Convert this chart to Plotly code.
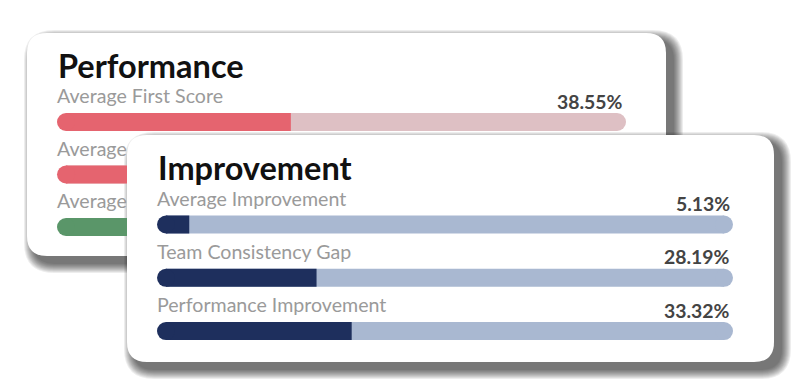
import plotly.graph_objects as go

W, H = 800, 385

# ---------------- data ----------------
perf_title = "Performance"
perf_labels = ["Average First Score", "Average", "Average"]   # rows 2-3 are hidden behind the front card
perf_values = [41.1, 36.0, 45.0]          # bar fill (% of track)
perf_text = ["38.55%", "", ""]
perf_fill = ["#E5646F", "#E5646F", "#5A9669"]
perf_track = ["#DEC0C4", "#DEC0C4", "#B7D2BE"]

imp_title = "Improvement"
imp_labels = ["Average Improvement", "Team Consistency Gap", "Performance Improvement"]
imp_values = [5.6, 27.7, 33.8]            # bar fill (% of track)
imp_text = ["5.13%", "28.19%", "33.32%"]
imp_fill = ["#1E2F5D"] * 3
imp_track = ["#A9B8D1"] * 3

# ---------------- style ----------------
FONT = "Lato"
LABEL_COLOR = "#9A9A9A"
VALUE_COLOR = "#444444"
TITLE_COLOR = "#111111"
LABEL_SIZE = 19.6
VALUE_SIZE = 19.4
TITLE_SIZE = 32.5
BAR_PX = 18          # bar thickness in px
LABEL_OFF_PX = 23.5  # label centre above bar centre
VALUE_OFF_PX = 21    # value centre above bar centre


def pxy(x, y):
    return x / W, 1 - y / H


def rr_path(x0, y0, x1, y1, r):
    pts = [
        ("M", [(x0 + r, y0)]), ("L", [(x1 - r, y0)]), ("Q", [(x1, y0), (x1, y0 + r)]),
        ("L", [(x1, y1 - r)]), ("Q", [(x1, y1), (x1 - r, y1)]), ("L", [(x0 + r, y1)]),
        ("Q", [(x0, y1), (x0, y1 - r)]), ("L", [(x0, y0 + r)]), ("Q", [(x0, y0), (x0 + r, y0)]),
    ]
    s = ""
    for cmd, ps in pts:
        s += cmd + " " + " ".join("%.5f,%.5f" % pxy(a, b) for a, b in ps) + " "
    return s + "Z"


def card_shapes(x0, y0, x1, y1, r=20):
    shapes = []
    d, n = 7, 10
    for k in range(n):
        e = n - k
        shapes.append(dict(type="path", xref="paper", yref="paper", layer="below",
                           path=rr_path(x0 + d - e, y0 + d - e, x1 + d + e, y1 + d + e, r + e),
                           fillcolor="rgba(0,0,0,0.072)", line=dict(width=0)))
    shapes.append(dict(type="path", xref="paper", yref="paper", layer="below",
                       path=rr_path(x0, y0, x1, y1, r), fillcolor="white", line=dict(width=0)))
    return shapes


fig = go.Figure()
annotations = []


def add_rows(xa, ya, rows, labels, values, texts, fills, tracks, ppu_x, ppu_y, clip):
    """ppu_x / ppu_y: pixels per data unit along x / y."""
    vals = [values[i] for i in rows]
    pad = (BAR_PX / 2) / ppu_x          # cap radius in data units
    width = BAR_PX / ppu_y
    n = len(rows)
    # square bodies
    fig.add_trace(go.Bar(orientation="h", y=rows, x=[100 - 2 * pad] * n, base=[pad] * n, width=width,
                         marker=dict(color=[tracks[i] for i in rows], line=dict(width=0)),
                         xaxis=xa, yaxis=ya, hoverinfo="skip"))
    fig.add_trace(go.Bar(orientation="h", y=rows, x=[v - pad for v in vals], base=[pad] * n, width=width,
                         marker=dict(color=[fills[i] for i in rows], line=dict(width=0)),
                         xaxis=xa, yaxis=ya, hoverinfo="skip"))
    # round caps: track at the right end, fill at the left end
    fig.add_trace(go.Scatter(mode="markers", x=[100 - pad] * n, y=rows,
                             marker=dict(size=BAR_PX, color=[tracks[i] for i in rows], line=dict(width=0)),
                             xaxis=xa, yaxis=ya, hoverinfo="skip", cliponaxis=clip))
    fig.add_trace(go.Scatter(mode="markers", x=[pad] * n, y=rows,
                             marker=dict(size=BAR_PX, color=[fills[i] for i in rows], line=dict(width=0)),
                             xaxis=xa, yaxis=ya, hoverinfo="skip", cliponaxis=clip))
    # labels
    fig.add_trace(go.Scatter(mode="text", x=[0] * n, y=[r - LABEL_OFF_PX / ppu_y for r in rows],
                             text=[labels[i] for i in rows], textposition="middle right",
                             textfont=dict(family=FONT, size=LABEL_SIZE, color=LABEL_COLOR),
                             xaxis=xa, yaxis=ya, hoverinfo="skip", cliponaxis=clip))
    # values
    for i in rows:
        if texts[i]:
            annotations.append(dict(text="<b>%s</b>" % texts[i], xref=xa, yref=ya, x=100, y=i,
                                    xanchor="right", yanchor="middle", xshift=-1, yshift=VALUE_OFF_PX,
                                    showarrow=False,
                                    font=dict(family=FONT, size=VALUE_SIZE, color=VALUE_COLOR)))


ax = dict(visible=False, showgrid=False, zeroline=False, fixedrange=True)

# back card geometry (px)
b_row0, b_step = 122, 52.5
bx0, bx1, clip_x = 57, 626, 127
b_ppu = (bx1 - bx0) / 100
# front card geometry (px)
f_row0, f_step = 224.5, 53.3
fx0, fx1 = 157, 733
f_ppu = (fx1 - fx0) / 100

add_rows("x", "y", [0], perf_labels, perf_values, perf_text, perf_fill, perf_track, b_ppu, b_step, False)
add_rows("x2", "y2", [1, 2], perf_labels, perf_values, perf_text, perf_fill, perf_track, b_ppu, b_step, True)
add_rows("x3", "y3", [0, 1, 2], imp_labels, imp_values, imp_text, imp_fill, imp_track, f_ppu, f_step, False)

lead = 2  # extra data units left of 0 for the clipped subplot
fig.update_layout(
    xaxis=dict(ax, domain=[bx0 / W, bx1 / W], range=[0, 100]),
    yaxis=dict(ax, domain=[1 - (b_row0 + 0.2 * b_step) / H, 1 - (b_row0 - 0.9 * b_step) / H],
               range=[0.2, -0.9]),
    xaxis2=dict(ax, domain=[(bx0 - lead * b_ppu) / W, clip_x / W],
                range=[-lead, (clip_x - bx0) / b_ppu]),
    yaxis2=dict(ax, domain=[1 - (b_row0 + 2.5 * b_step) / H, 1 - (b_row0 + 0.2 * b_step) / H],
                range=[2.5, 0.2]),
    xaxis3=dict(ax, domain=[fx0 / W, fx1 / W], range=[0, 100]),
    yaxis3=dict(ax, domain=[1 - (f_row0 + 2.5 * f_step) / H, 1 - (f_row0 - 0.9 * f_step) / H],
                range=[2.5, -0.9]),
)

shapes = card_shapes(27, 33, 666, 256) + card_shapes(127, 135, 774, 362)

annotations += [
    dict(text="<b>%s</b>" % perf_title, xref="paper", yref="paper", x=56 / W, y=1 - 65.5 / H,
         xanchor="left", yanchor="middle", showarrow=False,
         font=dict(family=FONT, size=TITLE_SIZE, color=TITLE_COLOR)),
    dict(text="<b>%s</b>" % imp_title, xref="paper", yref="paper", x=156 / W, y=1 - 167 / H,
         xanchor="left", yanchor="middle", showarrow=False,
         font=dict(family=FONT, size=TITLE_SIZE, color=TITLE_COLOR)),
]

fig.update_layout(width=W, height=H, margin=dict(l=0, r=0, t=0, b=0, pad=0),
                  paper_bgcolor="white", plot_bgcolor="rgba(0,0,0,0)",
                  barmode="overlay", showlegend=False, shapes=shapes, annotations=annotations)

fig.write_html("out.html", config=dict(displayModeBar=False),
               post_script="document.body.style.margin='0';document.body.style.overflow='hidden';")
